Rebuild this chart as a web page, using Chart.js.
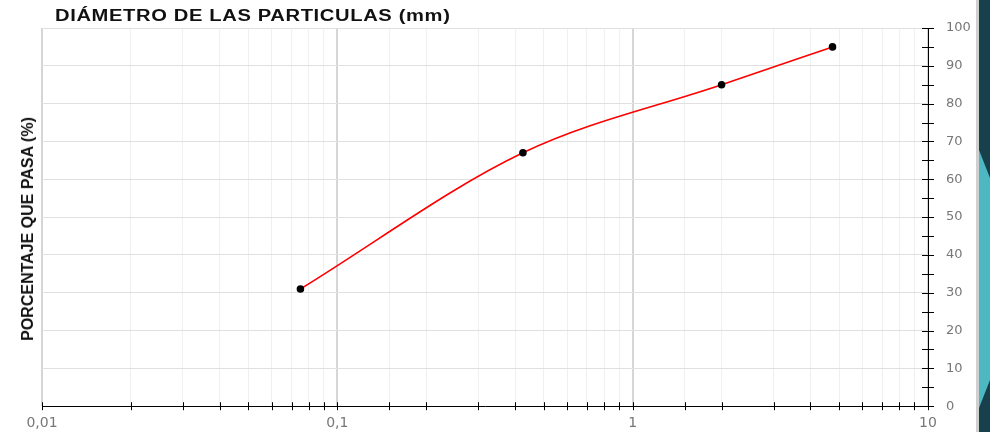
<!DOCTYPE html>
<html>
<head>
<meta charset="utf-8">
<script src="https://cdn.jsdelivr.net/npm/chart.js@4/dist/chart.umd.min.js"></script>
<style>
  body { margin: 0; background: #fff; }
  #wrap { position: relative; width: 990px; height: 432px; overflow: hidden; }
  #chartBox { position: absolute; left: 0; top: 0; width: 976px; height: 432px; }
  #title { position: absolute; left: 55px; top: 7px; font: bold 16px "Liberation Sans", Arial, sans-serif; color: #111;
           white-space: nowrap; letter-spacing: 0.5px; transform: scaleX(1.26); transform-origin: left top; }
  #ytitle { position: absolute; left: 28px; top: 229px; transform: translate(-50%, -50%) rotate(-90deg);
            font: bold 16px "Liberation Sans Narrow", "Arial Narrow", "Liberation Sans", sans-serif; color: #111; white-space: nowrap; }
  #sep { position: absolute; left: 976px; top: 0; width: 3px; height: 432px; background: #d0d0d0; }
  #deco { position: absolute; left: 979px; top: 0; width: 11px; height: 432px; background: #173f4c; }
  #deco2 { position: absolute; left: 979px; top: 0; width: 11px; height: 432px; background: #4db7c2;
           clip-path: polygon(0 150px, 11px 178px, 11px 380px, 0 408px); }
</style>
</head>
<body>
<div id="wrap">
  <div id="chartBox"><canvas id="myChart" width="976" height="432"></canvas></div>
  <div id="title">DIÁMETRO DE LAS PARTICULAS (mm)</div>
  <div id="ytitle">PORCENTAJE QUE PASA (%)</div>
  <div id="sep"></div>
  <div id="deco"></div>
  <div id="deco2"></div>
</div>
<script>
// sieve sizes (mm) and percent passing
const sizes = [0.075, 0.425, 2.0, 4.75]
const passing = [31, 67, 85, 95]
const xMin = 0.01
const xMax = 10
const yMin = 0
const yMax = 100

const isPow10 = v => Math.abs(Math.log10(v) - Math.round(Math.log10(v))) < 1e-9

// tick marks that cross the axis lines
const crossTicks = {
    id: 'crossTicks',
    afterDatasetsDraw(chart) {
        const ctx = chart.ctx
        const x = chart.scales.x
        const y = chart.scales.y
        ctx.save()
        ctx.strokeStyle = '#000'
        ctx.lineWidth = 1
        ctx.beginPath()
        x.ticks.forEach(t => {
            const px = Math.round(x.getPixelForValue(t.value)) + 0.5
            ctx.moveTo(px, x.top - 4)
            ctx.lineTo(px, x.top + 4)
        })
        y.ticks.forEach(t => {
            const py = Math.round(y.getPixelForValue(t.value)) + 0.5
            ctx.moveTo(y.left - 6, py)
            ctx.lineTo(y.left + 6, py)
        })
        ctx.stroke()
        ctx.restore()
    }
}

Chart.defaults.font.family = "'DejaVu Sans', sans-serif"

const data = {
    datasets: [{
        label: 'Granulometria',
        data: sizes.map((s, i) => ({ x: s, y: passing[i] })),
        borderColor: '#ff0000',
        borderWidth: 1.6,
        backgroundColor: '#000',
        pointBackgroundColor: '#000',
        pointBorderColor: '#000',
        pointRadius: 3,
        cubicInterpolationMode: 'monotone',
        fill: false
    }]
}

const config = {
    type: 'line',
    data: data,
    plugins: [crossTicks],
    options: {
        responsive: false,
        animation: false,
        layout: { padding: { left: 42, top: 28, right: 0, bottom: 0 } },
        plugins: { legend: { display: false }, tooltip: { enabled: false } },
        scales: {
            x: {
                type: 'logarithmic',
                min: xMin,
                max: xMax,
                afterFit: s => { s.height = 25 },
                border: { color: '#000', width: 1 },
                grid: {
                    drawTicks: false,
                    color: ctx => isPow10(ctx.tick.value) ? '#d6d6d6' : '#f0f0f0',
                    lineWidth: ctx => isPow10(ctx.tick.value) ? 2 : 1
                },
                ticks: {
                    padding: 9,
                    autoSkip: false,
                    maxRotation: 0,
                    color: '#777',
                    font: { size: 14 },
                    callback: v => isPow10(v) ? String(v).replace('.', ',') : ''
                }
            },
            y: {
                position: 'right',
                min: yMin,
                max: yMax,
                afterFit: s => { s.width = 48 },
                border: { color: '#000', width: 1 },
                grid: {
                    drawTicks: false,
                    color: ctx => ctx.tick.value % 10 === 0 ? '#e0e0e0' : 'rgba(0,0,0,0)'
                },
                ticks: {
                    stepSize: 5,
                    padding: 18,
                    color: '#777',
                    font: { size: 13 },
                    callback: v => v % 10 === 0 ? String(v) : ''
                }
            }
        }
    }
}

const myChart = new Chart(document.getElementById('myChart'), config)
</script>
</body>
</html>
